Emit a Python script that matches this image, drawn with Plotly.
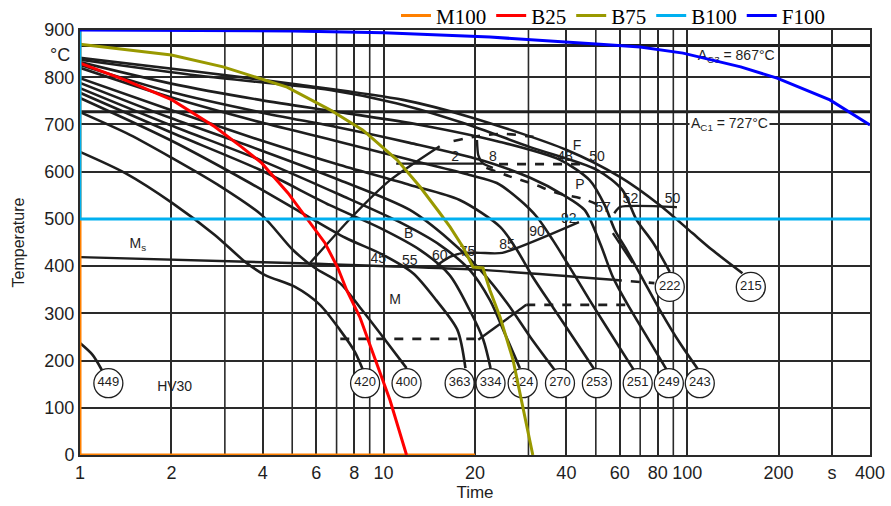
import plotly.graph_objects as go

# ---------------- coloured cooling paths (legend series) ----------------
M100_t = [1, 1, 20]
M100_T = [900, 0, 0]
B25_t = [1, 1.41, 2.01, 2.78, 3.41, 3.97, 4.84, 5.63, 6.41, 7.07, 7.56, 8.35, 10.5, 11.9]
B25_T = [830, 794, 752, 695, 652, 618, 555, 498, 449, 396, 349, 292, 116, 0]
B75_t = [1, 2, 2.96, 4.81, 6.66, 8.55, 11.07, 13.18, 15.34, 16.55, 18.27, 19.7, 21.25, 22.4, 24.2, 26.7, 31.0]
B75_T = [870, 847, 822, 779, 731, 688, 625, 568, 512, 483, 440, 398, 396, 349, 292, 201, 0]
B100_t = [1, 1, 400]
B100_T = [900, 500, 500]
F100_t = [1, 5, 10, 22.4, 51.6, 70, 96.9, 150, 197.7, 295, 400]
F100_T = [900, 898, 894, 885, 870, 864, 851, 822, 798, 752, 699]

# ---------------- background CCT diagram (black cooling curves) ----------------
C449_t = [1, 1.1, 1.18]
C449_T = [237, 212, 180]
C420_t = [1, 1.41, 2.01, 2.78, 3.5, 4.07, 5.11, 6.17, 7.18, 8.05, 8.55]
C420_T = [642, 597, 534, 466, 409, 381, 356, 318, 265, 218, 180]
C400_t = [1, 1.46, 2.01, 2.85, 3.97, 5.03, 5.94, 7.18, 8.35, 9.95, 11.9]
C400_T = [726, 678, 629, 572, 508, 434, 396, 364, 313, 250, 184]
C363_t = [1, 1.98, 3.63, 5.30, 7.48, 9.95, 12.5, 14.9, 17.5, 18.6]
C363_T = [756, 667, 576, 515, 460, 424, 385, 328, 265, 184]
C334_t = [1, 1.98, 3.91, 6.65, 9.72, 13.2, 16.5, 19.2, 21.3, 22.5]
C334_T = [767, 684, 604, 529, 481, 434, 381, 307, 244, 184]
C324_t = [1, 1.98, 3.91, 7.18, 11.3, 15.3, 19.2, 22.4, 25.2, 28.1]
C324_T = [777, 699, 625, 551, 493, 445, 392, 328, 254, 184]
C270_t = [1, 1.98, 3.91, 7.18, 12.2, 16.5, 20.8, 25.5, 30.4, 36.6]
C270_T = [788, 714, 646, 582, 519, 455, 392, 322, 250, 180]
C253_t = [1, 1.98, 3.91, 7.18, 12.2, 17.8, 24.2, 27.5, 31.0, 36.1, 42.0, 49.6]
C253_T = [798, 731, 667, 614, 572, 540, 483, 434, 377, 313, 250, 180]
C251_t = [1, 1.98, 3.91, 7.18, 12.2, 19.2, 23.6, 28.1, 32.0, 36.1, 41.0, 47.7, 56.9, 67.3]
C251_T = [820, 758, 705, 663, 625, 593, 576, 540, 504, 455, 398, 328, 250, 176]
C249_t = [1, 1.98, 3.91, 7.18, 12.2, 20.8, 30.4, 39.0, 45.9, 51.6, 56.9, 63.2, 73.7, 86.4]
C249_T = [826, 769, 726, 693, 661, 625, 587, 551, 519, 449, 377, 322, 250, 176]
C243_t = [1, 1.98, 3.91, 7.18, 13.2, 24.2, 38.1, 47.7, 53.5, 57.8, 63.2, 71.6, 81.3, 94.6, 110]
C243_T = [832, 787, 752, 726, 699, 663, 625, 582, 529, 476, 434, 371, 307, 237, 176]
C222_t = [1, 2.48, 6.65, 11.0, 18.3, 30.4, 50.4, 61.2, 68.1, 77.3, 87.6]
C222_T = [837, 803, 773, 745, 703, 652, 604, 561, 498, 449, 388]
C215_t = [1, 2.48, 5.30, 11.6, 19.2, 40.1, 60.0, 81.3, 104, 121, 152]
C215_T = [841, 811, 784, 752, 716, 646, 589, 529, 470, 434, 385]

# transformation lines
Ms_t = [1, 5.3, 20.8, 56.9]
Ms_T = [419, 406, 392, 371]
Ms_dash_t = [56.9, 78]
Ms_dash_T = [371, 364]
Mf_dash_t = [7.2, 20.5]
Mf_dash_T = [246, 246]
Mf_diag_t = [20.5, 29.5]
Mf_diag_T = [244, 318]
Mf2_dash_t = [29.5, 64.8]
Mf2_dash_T = [318, 318]
Bs_t = [5.73, 7.86, 10.5, 15.3]
Bs_T = [407, 504, 582, 654]
Bh_t = [11.0, 21.2]
Bh_T = [617, 617]
Fbr_t = [20.3, 20.5, 21.2, 22.9]
Fbr_T = [667, 635, 618, 608]
Fs_t = [17.0, 20.3, 24.6, 29.9, 32.0]
Fs_T = [665, 675, 680, 675, 673]
Ff_t = [24.0, 45.0]
Ff_T = [616, 616]
Ps_t = [21.8, 26.0, 31.0, 37.3, 45.5, 53.0]
Ps_T = [608, 590, 574, 555, 542, 525]
Pf_t = [56.9, 66.1]
Pf_T = [470, 407]
Ph_t = [57.5, 60.0, 92.5]
Ph_T = [512, 525, 525]
Bf_t = [15.0, 16.6, 18.3, 20.8, 24.6, 44.0]
Bf_T = [402, 420, 428, 428, 428, 493]

AC3 = 867
AC1 = 727

# hardness circles
HV_labels = ["449", "420", "400", "363", "334", "324", "270", "253", "251", "249", "243", "222", "215"]
HV_t = [1.24, 8.69, 11.9, 17.8, 22.5, 28.7, 38.1, 50.4, 68.7, 87.0, 110, 87.6, 162]
HV_T = [152, 152, 152, 152, 152, 152, 152, 152, 152, 152, 152, 356, 356]

# in-diagram texts
txt_labels = ["M<sub>s</sub>", "HV30", "B", "M", "F", "P", "2", "8", "48", "50", "52", "50", "57",
              "92", "90", "85", "75", "60", "55", "45", "A<sub>C3</sub> = 867°C"]
txt_t = [1.55, 2.05, 12.1, 10.9, 43.4, 44.3, 17.2, 22.9, 39.6, 50.5, 65.0, 89.5, 52.8,
         40.7, 32.0, 25.5, 18.9, 15.3, 12.2, 9.6, 145]
txt_T = [446, 144, 466, 328, 654, 570, 629, 629, 629, 631, 542, 542, 521,
         498, 472, 443, 428, 421, 409, 413, 843]

x_ticks = [1, 2, 4, 6, 8, 10, 20, 40, 60, 80, 100, 200, 300, 400]
x_text = ["1", "2", "4", "6", "8", "10", "20", "40", "60", "80", "100", "200", "s", "400"]
x_extra_grid = [3, 5, 7, 9, 30, 50, 70, 90]
y_ticks = [0, 100, 200, 300, 400, 500, 600, 700, 800, 900]

FONT = "Liberation Sans, Arial"
INK = "#1e1e1e"

fig = go.Figure()

for xv in x_extra_grid:
    fig.add_vline(x=xv, line=dict(color="#2a2a2a", width=1.6), layer="below")
fig.add_hline(y=AC3, line=dict(color=INK, width=3), layer="below")
fig.add_hline(y=AC1, line=dict(color=INK, width=3), layer="below")

black_curves = [(C449_t, C449_T), (C420_t, C420_T), (C400_t, C400_T), (C363_t, C363_T),
                (C334_t, C334_T), (C324_t, C324_T), (C270_t, C270_T), (C253_t, C253_T),
                (C251_t, C251_T), (C249_t, C249_T), (C243_t, C243_T), (C222_t, C222_T),
                (C215_t, C215_T)]
for tt, TT in black_curves:
    fig.add_trace(go.Scatter(x=tt, y=TT, mode="lines", showlegend=False, hoverinfo="skip",
                             line=dict(color=INK, width=2.6, shape="spline", smoothing=0.8)))

solid_lines = [(Ms_t, Ms_T), (Mf_diag_t, Mf_diag_T), (Bs_t, Bs_T), (Bh_t, Bh_T),
               (Fbr_t, Fbr_T), (Pf_t, Pf_T), (Ph_t, Ph_T), (Bf_t, Bf_T)]
for tt, TT in solid_lines:
    fig.add_trace(go.Scatter(x=tt, y=TT, mode="lines", showlegend=False, hoverinfo="skip",
                             line=dict(color=INK, width=2.4, shape="spline", smoothing=0.6)))
dashed_lines = [(Ms_dash_t, Ms_dash_T), (Mf_dash_t, Mf_dash_T), (Mf2_dash_t, Mf2_dash_T),
                (Fs_t, Fs_T), (Ff_t, Ff_T), (Ps_t, Ps_T)]
for tt, TT in dashed_lines:
    fig.add_trace(go.Scatter(x=tt, y=TT, mode="lines", showlegend=False, hoverinfo="skip",
                             line=dict(color=INK, width=2.6, dash="dash", shape="spline")))

fig.add_trace(go.Scatter(x=HV_t, y=HV_T, mode="markers+text", text=HV_labels,
                         textposition="middle center", showlegend=False, hoverinfo="skip",
                         marker=dict(size=29, color="white", line=dict(color=INK, width=1.3)),
                         textfont=dict(family=FONT, size=13, color=INK)))
fig.add_trace(go.Scatter(x=txt_t, y=txt_T, mode="text", text=txt_labels,
                         textposition="middle center", showlegend=False, hoverinfo="skip",
                         textfont=dict(family=FONT, size=14, color=INK)))

# coloured series
series = [("M100", M100_t, M100_T, "#ff8000"), ("B25", B25_t, B25_T, "#ff0000"),
          ("B75", B75_t, B75_T, "#999900"), ("B100", B100_t, B100_T, "#00b0f0"),
          ("F100", F100_t, F100_T, "#0000ff")]
for name, tt, TT, col in series:
    fig.add_trace(go.Scatter(x=tt, y=TT, mode="lines", name=name,
                             line=dict(color=col, width=3)))

fig.add_annotation(x=2.14, y=700, text="A<sub>C1</sub> = 727°C", xref="x", yref="y",
                   xanchor="center", showarrow=False, bgcolor="white",
                   font=dict(family=FONT, size=14, color=INK))
fig.add_annotation(x=0, y=848, xref="paper", yref="y", text="°C", showarrow=False,
                   xanchor="right", xshift=-8,
                   font=dict(family=FONT, size=18, color=INK))

fig.update_xaxes(type="log", range=[0, 2.60206], tickvals=x_ticks, ticktext=x_text,
                 showgrid=True, gridcolor="#2a2a2a", gridwidth=1.6,
                 showline=True, linecolor="#2a2a2a", linewidth=2, mirror=True,
                 ticks="", tickfont=dict(family=FONT, size=18, color=INK),
                 title=dict(text="Time", standoff=4,
                            font=dict(family=FONT, size=17, color=INK)),
                 zeroline=False)
fig.update_yaxes(range=[0, 900], tickvals=y_ticks,
                 showgrid=True, gridcolor="#2a2a2a", gridwidth=1.6,
                 showline=True, linecolor="#2a2a2a", linewidth=2, mirror=True,
                 ticks="", tickfont=dict(family=FONT, size=18, color=INK),
                 title=dict(text="Temperature", standoff=16,
                            font=dict(family=FONT, size=16, color=INK)),
                 zeroline=False)

fig.update_layout(width=891, height=506, plot_bgcolor="white", paper_bgcolor="white",
                  margin=dict(l=80, r=21, t=30, b=51, autoexpand=False),
                  legend=dict(orientation="h", x=0.40, y=0.985, xanchor="left", yanchor="bottom",
                              bgcolor="rgba(0,0,0,0)",
                              font=dict(family="Liberation Serif, Times New Roman", size=21,
                                        color="black")),
                  showlegend=True)

fig.write_html("out.html", config={"displayModeBar": False},
               post_script="document.body.style.margin='0';")
